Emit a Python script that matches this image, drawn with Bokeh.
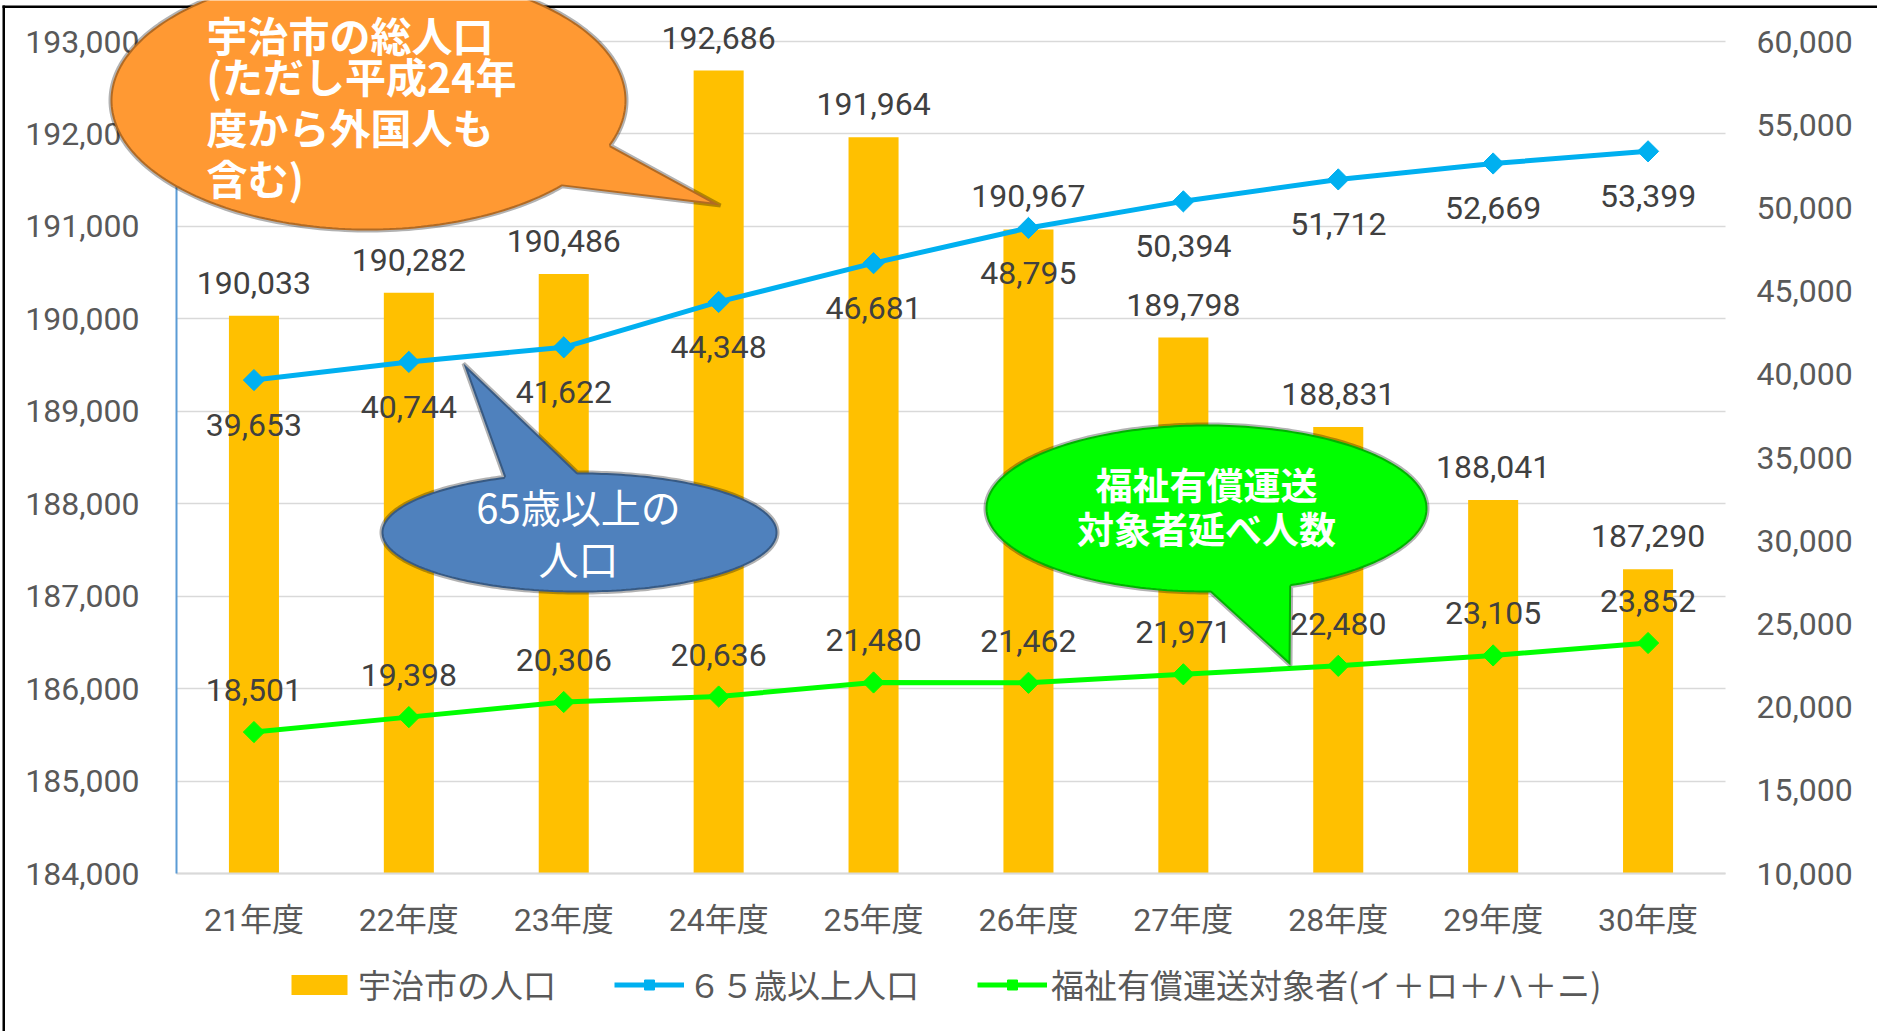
import numpy as np
from bokeh.plotting import figure
from bokeh.models import (ColumnDataSource, Range1d, LinearAxis, FixedTicker, NumeralTickFormatter,
                          LabelSet, Label, PolyAnnotation, BoxAnnotation, Legend, LegendItem)
from bokeh.embed import file_html
from bokeh.resources import INLINE
from bokeh.core.properties import value

# ---------------- data ----------------
years = ["21年度", "22年度", "23年度", "24年度", "25年度", "26年度", "27年度", "28年度", "29年度", "30年度"]
population = [190033, 190282, 190486, 192686, 191964, 190967, 189798, 188831, 188041, 187290]
elderly = [39653, 40744, 41622, 44348, 46681, 48795, 50394, 51712, 52669, 53399]
welfare = [18501, 19398, 20306, 20636, 21480, 21462, 21971, 22480, 23105, 23852]
left_ticks = list(range(184000, 193001, 1000))
right_ticks = list(range(10000, 60001, 5000))
series_names = ["宇治市の人口", "６５歳以上人口", "福祉有償運送対象者(イ＋ロ＋ハ＋ニ)"]
callout_orange = ["宇治市の総人口", "(ただし平成24年", "度から外国人も", "含む)"]
callout_blue = ["65歳以上の", "人口"]
callout_green = ["福祉有償運送", "対象者延べ人数"]

# ---------------- layout (pixels inside the canvas) ----------------
W, H = 1877, 1031
PL, PR, PT, PB = 176, 1725, 41, 873      # plot area edges
NUM_FONT = "Roboto"
CJK_FONT = "Noto Sans CJK JP"
MIX_FONT = "Roboto, Noto Sans CJK JP"

n = len(years)
x_lo, x_hi = -0.5, n - 0.5
yl_lo, yl_hi = left_ticks[0], left_ticks[-1]
yr_lo, yr_hi = right_ticks[0], right_ticks[-1]
xpp = (x_hi - x_lo) / (PR - PL)
ylpp = (yl_hi - yl_lo) / (PB - PT)
yrpp = (yr_hi - yr_lo) / (PB - PT)

xs_idx = list(range(n))
src = ColumnDataSource(dict(
    x=xs_idx, pop=population, eld=elderly, wel=welfare,
    pop_lbl=[f"{v:,}" for v in population],
    eld_lbl=[f"{v:,}" for v in elderly],
    wel_lbl=[f"{v:,}" for v in welfare],
))

# the frame covers the whole canvas; axes are pinned at the plot-area edges
p = figure(width=W, height=H, output_backend="svg", toolbar_location=None,
           x_range=Range1d(x_lo - PL * xpp, x_hi + (W - PR) * xpp),
           y_range=Range1d(yl_lo - (H - PB) * ylpp, yl_hi + PT * ylpp),
           min_border_left=0, min_border_right=0, min_border_top=0, min_border_bottom=0,
           background_fill_color="white", border_fill_color="white")
p.outline_line_color = None
p.extra_y_ranges = {"right": Range1d(yr_lo - (H - PB) * yrpp, yr_hi + PT * yrpp)}

# left axis
lax = p.yaxis[0]
lax.fixed_location = x_lo
lax.bounds = (yl_lo, yl_hi)
lax.ticker = FixedTicker(ticks=left_ticks)
lax.formatter = NumeralTickFormatter(format="0,0")
lax.axis_line_color = "#5B9BD5"
lax.axis_line_width = 2
lax.major_tick_line_color = None
lax.minor_tick_line_color = None
lax.major_label_text_font = NUM_FONT
lax.major_label_text_font_size = "32px"
lax.major_label_text_color = "#595959"
lax.major_label_standoff = 31

p.ygrid.ticker = FixedTicker(ticks=left_ticks)
p.ygrid.grid_line_color = "#D9D9D9"
p.ygrid.grid_line_width = 1.5
p.ygrid.bounds = (yl_lo, yl_hi)
p.ygrid.cross_bounds = (x_lo, x_hi)
p.xgrid.visible = False

# bottom axis
bax = p.xaxis[0]
bax.fixed_location = yl_lo
bax.bounds = (x_lo, x_hi)
bax.ticker = FixedTicker(ticks=xs_idx)
bax.major_label_overrides = {i: years[i] for i in xs_idx}
bax.axis_line_color = "#D9D9D9"
bax.axis_line_width = 2
bax.major_tick_line_color = None
bax.minor_tick_line_color = None
bax.major_label_text_font = MIX_FONT
bax.major_label_text_font_size = "32px"
bax.major_label_text_color = "#595959"
bax.major_label_standoff = 21

# right axis
rax = LinearAxis(y_range_name="right", ticker=FixedTicker(ticks=right_ticks),
                 formatter=NumeralTickFormatter(format="0,0"),
                 fixed_location=x_hi, bounds=(yr_lo, yr_hi))
rax.axis_line_color = None
rax.major_tick_line_color = None
rax.minor_tick_line_color = None
rax.major_label_text_font = NUM_FONT
rax.major_label_text_font_size = "32px"
rax.major_label_text_color = "#595959"
rax.major_label_standoff = 25
p.add_layout(rax, "right")

# ---------------- glyphs ----------------
bars = p.vbar(x="x", top="pop", bottom=yl_lo, width=0.323, source=src,
              fill_color="#FFC000", line_color=None)
bl = p.line("x", "eld", source=src, y_range_name="right", line_color="#00B0F0", line_width=5)
bs = p.scatter("x", "eld", source=src, y_range_name="right", marker="square", angle=np.pi / 4,
               size=15, fill_color="#00B0F0", line_color="#00B0F0")
gl = p.line("x", "wel", source=src, y_range_name="right", line_color="#00FF00", line_width=5)
gs = p.scatter("x", "wel", source=src, y_range_name="right", marker="square", angle=np.pi / 4,
               size=15, fill_color="#00FF00", line_color="#00FF00")

lbl_style = dict(text_align="center", text_baseline="middle", text_font=value(NUM_FONT),
                 text_font_size="32px", text_color="#404040")
p.add_layout(LabelSet(x="x", y="pop", text="pop_lbl", source=src, y_offset=33, **lbl_style))
p.add_layout(LabelSet(x="x", y="eld", text="eld_lbl", source=src, y_range_name="right",
                      y_offset=-45, **lbl_style))
p.add_layout(LabelSet(x="x", y="wel", text="wel_lbl", source=src, y_range_name="right",
                      y_offset=42, **lbl_style))

# ---------------- decorations (pixel geometry -> data coords) ----------------
def dx(X):
    return x_lo + (np.asarray(X, dtype=float) - PL) * xpp

def dy(Y):
    return yl_hi - (np.asarray(Y, dtype=float) - PT) * ylpp

# chart border (left & top)
p.add_layout(BoxAnnotation(left=float(dx(2)), right=float(dx(4.5)), top=float(dy(5)), bottom=float(dy(H)),
                           fill_color="black", fill_alpha=1, line_color=None))
p.add_layout(BoxAnnotation(left=float(dx(2)), right=float(dx(W)), top=float(dy(5)), bottom=float(dy(7.5)),
                           fill_color="black", fill_alpha=1, line_color=None))

def bubble(cx, cy, rx, ry, a, b, tip, npts=240):
    ta = np.arctan2((a[1] - cy) / ry, (a[0] - cx) / rx)
    tb = np.arctan2((b[1] - cy) / ry, (b[0] - cx) / rx)
    d = (tb - ta) % (2 * np.pi)
    if d < np.pi:
        ts = np.linspace(tb, ta + 2 * np.pi, npts)
    else:
        ts = np.linspace(ta, ta + d, npts)
    X = list(cx + rx * np.cos(ts)) + [tip[0]]
    Y = list(cy + ry * np.sin(ts)) + [tip[1]]
    return [float(v) for v in dx(X)], [float(v) for v in dy(Y)]

def add_bubble(geom, color):
    xs, ys = bubble(*geom)
    p.add_layout(PolyAnnotation(xs=xs, ys=ys, fill_color=color, fill_alpha=1,
                                line_color="black", line_width=4))

add_bubble((368, 100, 258, 130, (610, 145), (562, 186), (720, 205)), "#FF9933")
add_bubble((579, 532, 198, 60, (503, 476), (577, 473), (463, 363)), "#4F81BD")
add_bubble((1206, 508, 221, 84, (1210, 592), (1290, 585), (1290, 665)), "#00FF00")

def add_text(lines, X, Ys, size, align, bold=True):
    for t, Y in zip(lines, Ys):
        p.add_layout(Label(x=float(dx(X)), y=float(dy(Y)), text=t, text_align=align,
                           text_baseline="middle", text_color="white",
                           text_font=CJK_FONT, text_font_size=size,
                           text_font_style="bold" if bold else "normal"))

add_text(callout_orange, 206, [33, 74, 125, 176], "41px", "left")
add_text(callout_blue, 578, [505, 557], "40px", "center", bold=False)
add_text(callout_green, 1206, [483, 527], "37px", "center")

# ---------------- legend ----------------
legend = Legend(items=[LegendItem(label=series_names[0], renderers=[bars]),
                       LegendItem(label=series_names[1], renderers=[bl, bs]),
                       LegendItem(label=series_names[2], renderers=[gl, gs])],
                orientation="horizontal", location=(284, 23),
                border_line_color=None, background_fill_alpha=0,
                label_text_font=CJK_FONT, label_text_font_size="33px", label_text_color="#595959",
                glyph_width=70, glyph_height=25, label_standoff=4, spacing=58,
                padding=0, margin=0)
p.add_layout(legend)

open("out.html", "w").write(file_html(p, INLINE))
